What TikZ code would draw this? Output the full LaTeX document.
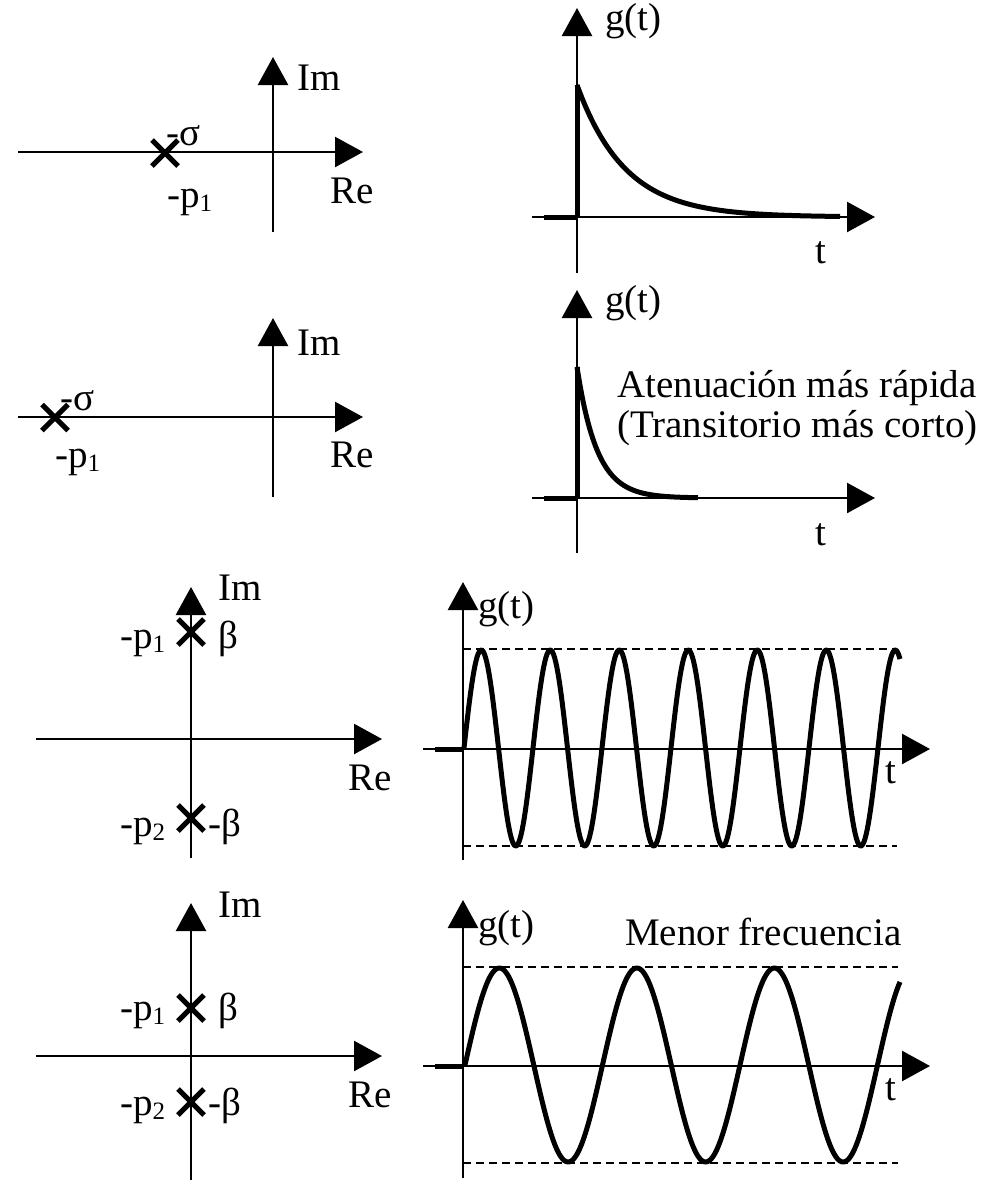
\documentclass[tikz,border=0pt]{standalone}
\usepackage{fontspec}
\setmainfont{Liberation Serif}
\usetikzlibrary{arrows.meta,shapes.misc}
\newcommand{\sbs}[1]{\raisebox{-4pt}{\fontsize{25}{25}\selectfont #1}}
\begin{document}
\begin{tikzpicture}[x=1pt,y=-1pt,
  axis/.style={line width=2.5pt,-{Triangle[length=28pt,width=30pt]}},
  curve/.style={line width=5pt,line join=round},
  thick seg/.style={line width=5pt},
  polex/.style={cross out,draw,line width=5pt,minimum size=21pt,inner sep=0pt},
  lbl/.style={inner sep=0pt,anchor=base west,font=\fontsize{39}{43}\selectfont},
  lim/.style={line width=2pt,dash pattern=on 8pt off 5pt}]
\useasboundingbox (0,0) rectangle (1002,1181);

% ---------- Panel 1 ----------
\draw[axis] (18,152) -- (363,152);
\draw[axis] (273,232) -- (273,57);
\node[polex] (pa) at (165,153) {};
\node[lbl] (ima) at (297,90) {Im};
\node[lbl] (sa) at (166,145) {-σ};
\node[lbl] (p1a) at (167,207) {-p\sbs{1}};
\node[lbl] (rea) at (330,203) {Re};

\draw[axis] (532,217) -- (875,217);
\draw[axis] (577,273) -- (577,8);
\draw[thick seg] (544,217) -- (577,217);
\draw[thick seg] (577,217) -- (577,85);
\draw[curve] plot[domain=577:840,samples=100] (\x,{217-132*exp(-(\x-577)/48)});
\node[lbl] (ga) at (605,30) {g(t)};
\node[lbl] (ta) at (815,263) {t};

% ---------- Panel 2 ----------
\draw[axis] (18,417) -- (363,417);
\draw[axis] (273,497) -- (273,318);
\node[polex] (pb) at (55,417.5) {};
\node[lbl] (imb) at (297,355) {Im};
\node[lbl] (sb) at (60,410) {-σ};
\node[lbl] (p1b) at (55,467) {-p\sbs{1}};
\node[lbl] (reb) at (330,467) {Re};

\draw[axis] (532,498) -- (875,498);
\draw[axis] (577,553) -- (577,290);
\draw[thick seg] (544,498) -- (577,498);
\draw[thick seg] (577,498) -- (577,367);
\draw[curve] plot[domain=577:698,samples=100] (\x,{498-131*exp(-(\x-577)/20)});
\node[lbl] (gb) at (605,312) {g(t)};
\node[lbl] (atb) at (617,397) {Atenuación más rápida};
\node[lbl] (trb) at (617,437) {(Transitorio más corto)};
\node[lbl] (tb) at (815,545) {t};

% ---------- Panel 3 ----------
\draw[axis] (36,739) -- (382,739);
\draw[axis] (191,858) -- (191,587);
\node[polex] (pc1) at (191,632) {};
\node[polex] (pc2) at (191,818) {};
\node[lbl] (imc) at (218,600) {Im};
\node[lbl] (p1c) at (120,648) {-p\sbs{1}};
\node[lbl] (bc) at (218,648) {β};
\node[lbl] (rec) at (348,790) {Re};
\node[lbl] (p2c) at (120,836) {-p\sbs{2}};
\node[lbl] (mbc) at (208,836) {-β};

\draw[lim] (463,649) -- (897,649);
\draw[lim] (463,846) -- (897,846);
\draw[axis] (423,749) -- (930,749);
\draw[axis] (463,860) -- (463,582);
\draw[thick seg] (435,749) -- (463,749);
\draw[curve] plot[domain=464:900,samples=400] (\x,{748-98*sin((360/69)*(\x-464))});
\node[lbl] (gc) at (478,618) {g(t)};
\node[lbl] (tc) at (885,783) {t};

% ---------- Panel 4 ----------
\draw[axis] (36,1056) -- (382,1056);
\draw[axis] (191,1180) -- (191,903);
\node[polex] (pd1) at (191,1008) {};
\node[polex] (pd2) at (191,1102) {};
\node[lbl] (imd) at (218,917) {Im};
\node[lbl] (p1d) at (120,1020) {-p\sbs{1}};
\node[lbl] (bd) at (218,1020) {β};
\node[lbl] (red) at (348,1107) {Re};
\node[lbl] (p2d) at (120,1115) {-p\sbs{2}};
\node[lbl] (mbd) at (208,1115) {-β};

\draw[lim] (463,967) -- (898,967);
\draw[lim] (463,1163) -- (898,1163);
\draw[axis] (423,1066) -- (930,1066);
\draw[axis] (463,1178) -- (463,900);
\draw[thick seg] (435,1066) -- (463,1066);
\draw[curve] plot[domain=465:900,samples=300] (\x,{1065-97*sin((360/137.5)*(\x-465))});
\node[lbl] (gd) at (478,937) {g(t)};
\node[lbl] (md) at (625,945) {Menor frecuencia};
\node[lbl] (td) at (885,1100) {t};
\end{tikzpicture}
\end{document}
